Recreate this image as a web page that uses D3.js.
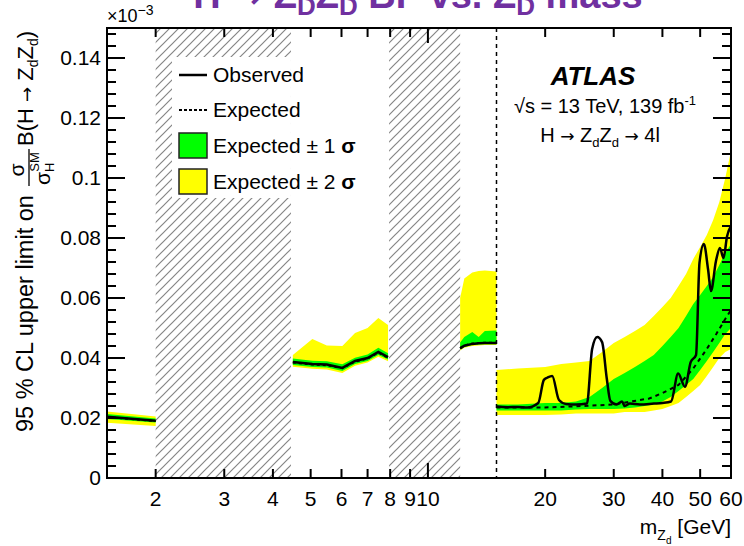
<!DOCTYPE html>
<html lang="en">
<head>
<meta charset="utf-8">
<title>Zd limit</title>
<script src="https://cdn.jsdelivr.net/npm/d3@7"></script>
<style>
  body { margin: 0; background: #fff; }
  svg { display: block; font-family: "Liberation Sans", Arial, sans-serif; }
  .arr { font-family: "DejaVu Sans", sans-serif; }
</style>
</head>
<body>
<script>
// values are in units of 1e-3
const xTickVals = [2, 3, 4, 5, 6, 7, 8, 9, 10, 20, 30, 40, 50, 60];
const yTickVals = [0, 0.02, 0.04, 0.06, 0.08, 0.1, 0.12, 0.14];

// 1.5 - 2 GeV
const lowMass = [1.5, 2];
const lowObs  = [0.0204, 0.0191];
const lowExp  = [0.0203, 0.0190];
const lowG1lo = [0.0197, 0.0185];
const lowG1hi = [0.0213, 0.0198];
const lowY2lo = [0.0184, 0.0173];
const lowY2hi = [0.0222, 0.0205];

// 4.5 - 8 GeV
const midMass = [4.5, 5.05, 5.5, 6.03, 6.5, 7.0, 7.46, 7.9];
const midObs  = [0.0387, 0.0380, 0.0378, 0.0367, 0.0390, 0.0400, 0.0420, 0.0403];
const midExp  = [0.0385, 0.0378, 0.0376, 0.0366, 0.0388, 0.0398, 0.0418, 0.0401];
const midG1lo = [0.0377, 0.0370, 0.0368, 0.0357, 0.0380, 0.0390, 0.0410, 0.0395];
const midG1hi = [0.0398, 0.0391, 0.0389, 0.0379, 0.0401, 0.0412, 0.0434, 0.0416];
const midY2lo = [0.0371, 0.0364, 0.0362, 0.0350, 0.0374, 0.0385, 0.0404, 0.0389];
const midY2hi = [0.0410, 0.0463, 0.0442, 0.0440, 0.0483, 0.0500, 0.0533, 0.0510];

// 12 - 15 GeV
const m3Mass = [12.1, 12.4, 13.0, 13.5, 14.0, 15.0];
const m3Obs  = [0.0432, 0.0441, 0.0447, 0.0449, 0.0450, 0.0450];
const m3Exp  = [0.0433, 0.0442, 0.0448, 0.0450, 0.0451, 0.0451];
const m3G1lo = [0.0428, 0.0437, 0.0443, 0.0445, 0.0446, 0.0446];
const m3G1hi = [0.0452, 0.0470, 0.0487, 0.0470, 0.0490, 0.0492];
const m3Y2lo = [0.0425, 0.0434, 0.0440, 0.0442, 0.0443, 0.0443];
const m3Y2hi = [0.0600, 0.0665, 0.0685, 0.0690, 0.0692, 0.0688];

// 15 - 60 GeV
const highObs = [[15.0,0.0238],[16,0.0236],[17,0.0237],[18,0.0235],[19.2,0.0250],[19.85,0.0327],[20.3,0.0335],[20.85,0.0340],
  [21.7,0.0260],[22.6,0.0247],[24,0.0245],[25.6,0.0248],[26.4,0.0430],[27.2,0.0470],[28.0,0.0453],[28.8,0.0330],
  [29.4,0.0257],[30.5,0.0245],[31.5,0.0255],[32,0.0240],[33,0.0248],[35,0.0245],[38,0.0248],[40,0.0250],
  [42.1,0.0255],[43.9,0.0348],[45.7,0.0304],[47.3,0.0387],[48.8,0.0410],[49.8,0.0717],[51.1,0.0780],[52.4,0.0695],
  [53.3,0.0623],[54.9,0.0723],[56.2,0.0767],[57.4,0.0733],[58.6,0.0805],[60,0.0840]];
const highExp = [[15,0.0235],[20,0.0235],[25,0.0240],[30,0.0245],[35,0.0260],[37,0.0265],[40,0.0283],[44,0.0310],
  [48,0.0365],[52,0.0430],[55,0.0480],[58,0.0530],[60,0.0560]];
const highMass = [15, 17, 20, 22, 24, 26, 28, 30, 32, 34, 36, 38, 40, 42, 44, 46, 48, 50, 52, 54, 56, 58, 60];
const highY2hi = [0.036,0.0365,0.037,0.038,0.0385,0.039,0.042,0.045,0.047,0.049,0.051,0.054,0.057,0.060,0.064,0.068,0.073,0.077,0.081,0.086,0.092,0.100,0.109];
const highG1hi = [0.0245,0.0245,0.025,0.025,0.0255,0.027,0.030,0.033,0.035,0.037,0.039,0.041,0.044,0.047,0.050,0.054,0.058,0.061,0.064,0.067,0.071,0.075,0.078];
const highG1lo = [0.0225,0.0225,0.0225,0.0225,0.0228,0.023,0.023,0.023,0.0232,0.0235,0.024,0.0245,0.0255,0.027,0.029,0.031,0.033,0.036,0.039,0.042,0.045,0.048,0.050];
const highY2lo = [0.021,0.021,0.021,0.0212,0.0215,0.0215,0.0215,0.0215,0.022,0.022,0.022,0.0225,0.023,0.024,0.025,0.027,0.029,0.031,0.034,0.037,0.040,0.042,0.043];

// excluded mass windows and the 15 GeV boundary
const vetoes = [[2, 4.45], [7.95, 12.1]];
const boundary = 15;

const W = 744, H = 546;
const L = 107, R = 731, T = 28, B = 478;

const svg = d3.select("body").append("svg").attr("width", W).attr("height", H);

const x = d3.scaleLog().domain([1.5, 60]).range([L, R]);
const y = d3.scaleLinear().domain([0, 0.15]).range([B, T]);

// purple slide title, mostly cut off at the top
svg.append("text").attr("x", 418).attr("y", 8).attr("text-anchor", "middle")
  .attr("fill", "#7030a0").attr("font-weight", "bold").attr("font-size", 38)
  .html('H <tspan class="arr">→</tspan> Z<tspan dy="7" font-size="26">D</tspan><tspan dy="-7">Z</tspan><tspan dy="7" font-size="26">D</tspan><tspan dy="-7"> BF vs. Z</tspan><tspan dy="7" font-size="26">D</tspan><tspan dy="-7"> mass</tspan>');

// hatch pattern
const defs = svg.append("defs");
const hs = 9;
const pat = defs.append("pattern").attr("id", "hatch").attr("patternUnits", "userSpaceOnUse")
  .attr("width", hs).attr("height", hs);
pat.append("path").attr("d", `M-1,1 l2,-2 M0,${hs} l${hs},-${hs} M${hs - 1},${hs + 1} l2,-2`)
  .attr("stroke", "#858585").attr("stroke-width", 1.2);
defs.append("clipPath").attr("id", "plotclip").append("rect")
  .attr("x", L).attr("y", T).attr("width", R - L).attr("height", B - T);

const plot = svg.append("g").attr("clip-path", "url(#plotclip)");

plot.selectAll("rect.veto").data(vetoes).join("rect").attr("class", "veto")
  .attr("x", d => x(d[0])).attr("y", T)
  .attr("width", d => x(d[1]) - x(d[0])).attr("height", B - T)
  .attr("fill", "url(#hatch)");

function zipBand(ms, lo, hi) { return ms.map((m, i) => [m, lo[i], hi[i]]); }
const area = d3.area().x(d => x(d[0])).y0(d => y(d[1])).y1(d => y(d[2]));
const line = d3.line().x(d => x(d[0])).y(d => y(d[1]));
const smooth = d3.line().x(d => x(d[0])).y(d => y(d[1])).curve(d3.curveMonotoneX);

const segments = [
  { m: lowMass, obs: lowObs, exp: lowExp, g1lo: lowG1lo, g1hi: lowG1hi, y2lo: lowY2lo, y2hi: lowY2hi },
  { m: midMass, obs: midObs, exp: midExp, g1lo: midG1lo, g1hi: midG1hi, y2lo: midY2lo, y2hi: midY2hi },
  { m: m3Mass, obs: m3Obs, exp: m3Exp, g1lo: m3G1lo, g1hi: m3G1hi, y2lo: m3Y2lo, y2hi: m3Y2hi },
  { m: highMass, g1lo: highG1lo, g1hi: highG1hi, y2lo: highY2lo, y2hi: highY2hi }
];

segments.forEach(s => {
  plot.append("path").attr("d", area(zipBand(s.m, s.y2lo, s.y2hi))).attr("fill", "#ffff00");
  plot.append("path").attr("d", area(zipBand(s.m, s.g1lo, s.g1hi))).attr("fill", "#00ff00");
});
segments.forEach(s => {
  if (!s.obs) return;
  plot.append("path").attr("d", line(s.m.map((m, i) => [m, s.exp[i]])))
    .attr("fill", "none").attr("stroke", "#000").attr("stroke-width", 2).attr("stroke-dasharray", "3,3");
  plot.append("path").attr("d", line(s.m.map((m, i) => [m, s.obs[i]])))
    .attr("fill", "none").attr("stroke", "#000").attr("stroke-width", 2.5);
});
plot.append("path").attr("d", line(highExp))
  .attr("fill", "none").attr("stroke", "#000").attr("stroke-width", 2).attr("stroke-dasharray", "4,4");
plot.append("path").attr("d", smooth(highObs))
  .attr("fill", "none").attr("stroke", "#000").attr("stroke-width", 2.5);

// dashed boundary at 15 GeV
svg.append("line").attr("x1", x(boundary)).attr("x2", x(boundary)).attr("y1", T).attr("y2", B)
  .attr("stroke", "#000").attr("stroke-width", 1.5).attr("stroke-dasharray", "4,4");

// frame and ticks
svg.append("rect").attr("x", L).attr("y", T).attr("width", R - L).attr("height", B - T)
  .attr("fill", "none").attr("stroke", "#000").attr("stroke-width", 2);

const yMinor = d3.range(0, 0.1501, 0.004);
const ticks = svg.append("g").attr("stroke", "#000").attr("stroke-width", 2);
yMinor.forEach(v => {
  const major = yTickVals.some(t => Math.abs(t - v) < 1e-6);
  const len = major ? 18 : 9;
  ticks.append("line").attr("x1", L).attr("x2", L + len).attr("y1", y(v)).attr("y2", y(v));
  ticks.append("line").attr("x1", R).attr("x2", R - len).attr("y1", y(v)).attr("y2", y(v));
});
xTickVals.forEach(v => {
  const len = v === 10 ? 15 : 9;
  ticks.append("line").attr("x1", x(v)).attr("x2", x(v)).attr("y1", B).attr("y2", B - len);
  ticks.append("line").attr("x1", x(v)).attr("x2", x(v)).attr("y1", T).attr("y2", T + len);
});

svg.append("g").selectAll("text").data(yTickVals).join("text")
  .attr("x", L - 6).attr("y", d => y(d) + 7).attr("text-anchor", "end").attr("font-size", 21)
  .text(d => d3.format("~g")(d));
svg.append("g").selectAll("text").data(xTickVals).join("text")
  .attr("x", d => x(d)).attr("y", 506).attr("text-anchor", "middle").attr("font-size", 21)
  .text(d => d);

svg.append("text").attr("x", 107).attr("y", 22).attr("font-size", 18)
  .html('×10<tspan dy="-7" font-size="14">−3</tspan>');

// axis titles
svg.append("text").attr("x", R).attr("y", 534).attr("text-anchor", "end").attr("font-size", 21)
  .html('m<tspan dy="6" font-size="14">Z</tspan><tspan dy="4" font-size="10">d</tspan><tspan dy="-10"> [GeV]</tspan>');

const yl = svg.append("g").attr("transform", "translate(33,432) rotate(-90)").attr("font-size", 23.5);
yl.append("text").attr("x", 0).attr("y", 0).text("95 % CL upper limit on");
yl.append("text").attr("x", 262).attr("y", -9).attr("text-anchor", "middle").attr("font-size", 21).text("σ");
yl.append("line").attr("x1", 246).attr("x2", 283).attr("y1", -4).attr("y2", -4).attr("stroke", "#000").attr("stroke-width", 1.3);
yl.append("text").attr("x", 247).attr("y", 17).attr("font-size", 21)
  .html('σ<tspan font-size="13" dy="4">H</tspan><tspan font-size="13" dx="-9" dy="-15">SM</tspan>');
yl.append("text").attr("x", 286).attr("y", 0).attr("font-size", 22)
  .html('B(H <tspan class="arr" font-size="18">→</tspan> Z<tspan font-size="14" dy="5">d</tspan><tspan dy="-5">Z</tspan><tspan font-size="14" dy="5">d</tspan><tspan dy="-5">)</tspan>');

// legend
svg.append("rect").attr("x", 172).attr("y", 57).attr("width", x(vetoes[0][1]) - 172).attr("height", 141).attr("fill", "#fff");
const leg = svg.append("g").attr("font-size", 21);
leg.append("line").attr("x1", 179).attr("x2", 207).attr("y1", 75).attr("y2", 75).attr("stroke", "#000").attr("stroke-width", 2.5);
leg.append("text").attr("x", 213).attr("y", 82).text("Observed");
leg.append("line").attr("x1", 179).attr("x2", 207).attr("y1", 110).attr("y2", 110).attr("stroke", "#000").attr("stroke-width", 2).attr("stroke-dasharray", "3,2");
leg.append("text").attr("x", 213).attr("y", 117).text("Expected");
leg.append("rect").attr("x", 179).attr("y", 133).attr("width", 28).attr("height", 25).attr("fill", "#00ff00").attr("stroke", "#222").attr("stroke-width", 1.5);
leg.append("text").attr("x", 213).attr("y", 153).html('Expected ± 1 <tspan font-weight="bold">σ</tspan>');
leg.append("rect").attr("x", 179).attr("y", 169).attr("width", 28).attr("height", 25).attr("fill", "#ffff00").attr("stroke", "#222").attr("stroke-width", 1.5);
leg.append("text").attr("x", 213).attr("y", 189).html('Expected ± 2 <tspan font-weight="bold">σ</tspan>');

// ATLAS label
svg.append("text").attr("x", 593).attr("y", 85).attr("text-anchor", "middle").attr("font-size", 26)
  .attr("font-weight", "bold").attr("font-style", "italic").text("ATLAS");
svg.append("text").attr("x", 605).attr("y", 113).attr("text-anchor", "middle").attr("font-size", 20)
  .html('√s = 13 TeV, 139 fb<tspan dy="-8" font-size="13">-1</tspan>');
svg.append("text").attr("x", 600).attr("y", 142).attr("text-anchor", "middle").attr("font-size", 20)
  .html('H <tspan class="arr" font-size="17">→</tspan> Z<tspan dy="5" font-size="13">d</tspan><tspan dy="-5">Z</tspan><tspan dy="5" font-size="13">d</tspan><tspan dy="-5"> <tspan class="arr" font-size="17">→</tspan> 4l</tspan>');
</script>
</body>
</html>
